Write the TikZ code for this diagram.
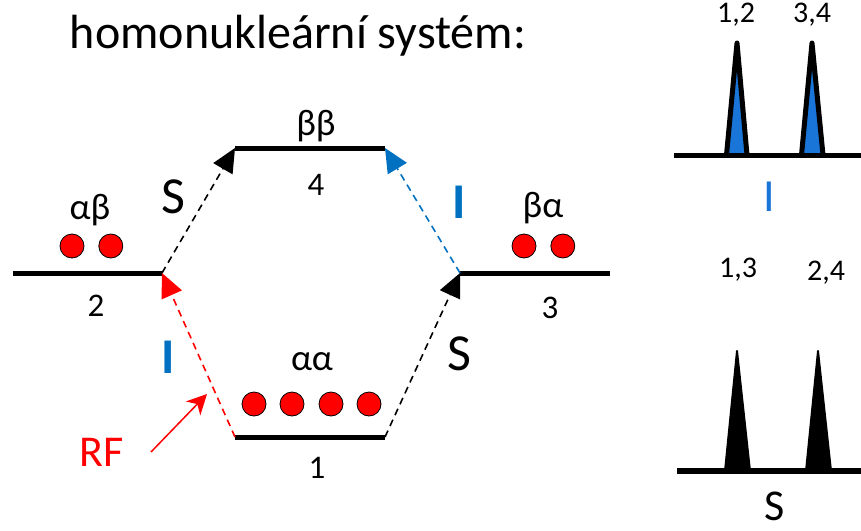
\documentclass[tikz,border=0pt]{standalone}
\usepackage{fontspec}
\setmainfont{Carlito}
\usetikzlibrary{shapes,arrows.meta,positioning}
\definecolor{iblue}{RGB}{0,112,192}
\definecolor{pkblue}{RGB}{26,117,217}
\definecolor{rfred}{RGB}{255,0,0}

\begin{document}
\begin{tikzpicture}[x=1pt, y=-1pt,
  level/.style={line width=5pt},
  spin/.style={circle, draw, fill=rfred, line width=0.8pt, minimum size=24pt, inner sep=0pt},
  trans/.style={dash pattern=on 7pt off 5pt, line width=1.6pt, -{Triangle[length=24pt,width=22pt]}},
  lbl/.style={font=\fontsize{33}{36}\selectfont, inner sep=0pt},
  greek/.style={font=\fontsize{37}{40}\selectfont, inner sep=0pt},
  big/.style={font=\fontsize{52}{56}\selectfont, inner sep=0pt},
  nuc/.style={font=\fontsize{50}{56}\selectfont\bfseries, text=iblue, inner sep=0pt},
  peak/.style={font=\fontsize{30}{32}\selectfont, inner sep=0pt}]
\useasboundingbox (0,0) rectangle (861,530);

% title
\node[font=\fontsize{48}{52}\selectfont, anchor=base] (title) at (298,48) {homonukleární systém:};

% energy levels
\coordinate (l1a) at (235,437); \coordinate (l1b) at (385,437);
\coordinate (l2a) at (13,273);  \coordinate (l2b) at (162,273);
\coordinate (l3a) at (460,273); \coordinate (l3b) at (610,273);
\coordinate (l4a) at (235,148); \coordinate (l4b) at (385,148);
\draw[level] (l1a) -- (l1b);
\draw[level] (l2a) -- (l2b);
\draw[level] (l3a) -- (l3b);
\draw[level] (l4a) -- (l4b);

\node[greek] (bb) at (316,126) {ββ};
\node[lbl] (n4) at (316,185) {4};
\node[greek] (ab) at (90,210) {αβ};
\node[lbl] (n2) at (96,306) {2};
\node[greek] (ba) at (543,208) {βα};
\node[lbl] (n3) at (550,308) {3};
\node[greek] (aa) at (312,362) {αα};
\node[lbl] (n1) at (317,468) {1};

% populations
\node[spin] (p2a) at (72,246) {};
\node[spin, right=14pt of p2a] (p2b) {};
\node[spin] (p3a) at (524,246) {};
\node[spin, right=14pt of p3a] (p3b) {};
\foreach \x [count=\i] in {254,292,331,369}
  \node[spin] (p1\i) at (\x,404) {};

% transitions
\draw[trans, rfred] (l1a) -- (l2b);
\draw[trans] (l2b) -- (l4a);
\draw[trans] (l1b) -- (l3a);
\draw[trans, iblue] (l3a) -- (l4b);
\node[big] (s1) at (173,197) {S};
\node[big] (s2) at (459,354) {S};
\node[nuc] (i1) at (168,357) {I};
\node[nuc] (i2) at (459,202) {I};

% RF
\node[font=\fontsize{44}{48}\selectfont, text=rfred, inner sep=0pt] (rf) at (102,452) {RF};
\coordinate (rftip) at (207,394);
\draw[rfred, line width=1.5pt, -{Stealth[length=20pt,width=20pt,inset=6pt]}] (151,452) -- (rftip);

% spectrum I
\draw[line width=5pt, fill=pkblue, line join=round] (726.5,155) -- (737,43) -- (747,155);
\draw[line width=5pt, fill=pkblue, line join=round] (801.5,155) -- (812,43) -- (823,155);
\draw[line width=5pt] (674,155.5) -- (861,155.5);
\node[peak] (p12) at (736,15) {1,2};
\node[peak] (p34) at (812,15) {3,4};
\node[font=\fontsize{46}{50}\selectfont, text=pkblue, inner sep=0pt] (ilab) at (769,197) {I};

% spectrum S
\draw[line width=2pt, fill=black, line join=round] (725,471) -- (737,351) -- (750,471) -- cycle;
\draw[line width=2pt, fill=black, line join=round] (806,471) -- (818,351) -- (831,471) -- cycle;
\draw[line width=6pt] (677,471) -- (861,471);
\node[peak] (p13) at (738,270) {1,3};
\node[peak] (p24) at (826,273) {2,4};
\node[font=\fontsize{44}{48}\selectfont, inner sep=0pt, text depth=0pt, anchor=base] (slab) at (775,520) {S};
\end{tikzpicture}
\end{document}
